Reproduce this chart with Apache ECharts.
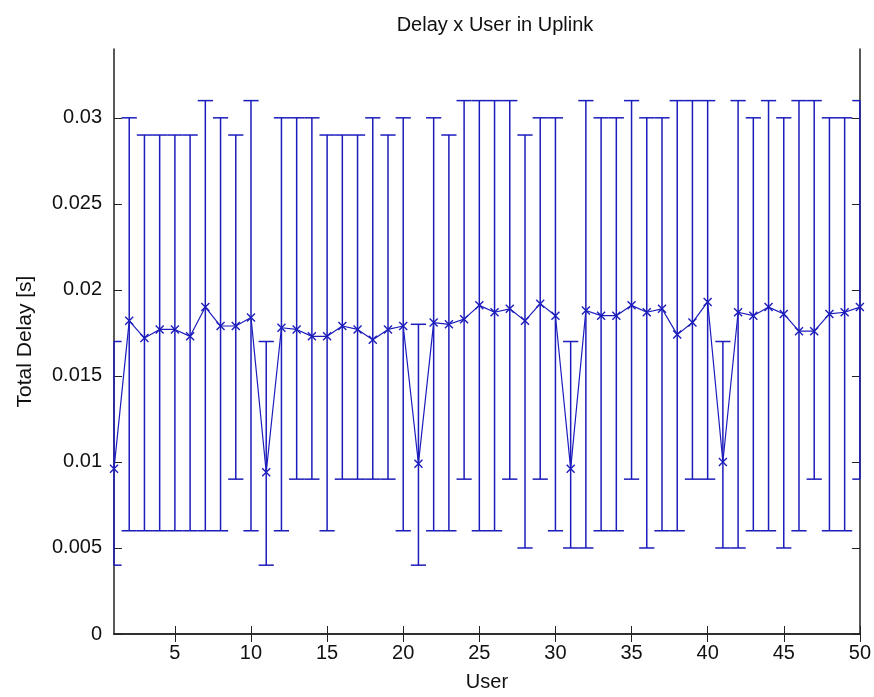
<!DOCTYPE html>
<html>
<head>
<meta charset="utf-8">
<script src="https://cdn.jsdelivr.net/npm/echarts@6/dist/echarts.min.js"></script>
<style>
  html, body { margin: 0; padding: 0; background: #fff; }
  #chart { width: 874px; height: 697px; }
</style>
</head>
<body>
<div id="chart"></div>
<script>
const users = [1, 2, 3, 4, 5, 6, 7, 8, 9, 10, 11, 12, 13, 14, 15, 16, 17, 18, 19, 20,
  21, 22, 23, 24, 25, 26, 27, 28, 29, 30, 31, 32, 33, 34, 35, 36, 37, 38, 39, 40,
  41, 42, 43, 44, 45, 46, 47, 48, 49, 50]

const meanDelay = [
  0.0096, 0.0182, 0.0172, 0.0177, 0.0177, 0.0173, 0.0190, 0.0179, 0.0179, 0.0184,
  0.0094, 0.0178, 0.0177, 0.0173, 0.0173, 0.0179, 0.0177, 0.0171, 0.0177, 0.0179,
  0.0099, 0.0181, 0.0180, 0.0183, 0.0191, 0.0187, 0.0189, 0.0182, 0.0192, 0.0185,
  0.0096, 0.0188, 0.0185, 0.0185, 0.0191, 0.0187, 0.0189, 0.0174, 0.0181, 0.0193,
  0.0100, 0.0187, 0.0185, 0.0190, 0.0186, 0.0176, 0.0176, 0.0186, 0.0187, 0.0190
]

const upperDelay = [
  0.017, 0.030, 0.029, 0.029, 0.029, 0.029, 0.031, 0.030, 0.029, 0.031,
  0.017, 0.030, 0.030, 0.030, 0.029, 0.029, 0.029, 0.030, 0.029, 0.030,
  0.018, 0.030, 0.029, 0.031, 0.031, 0.031, 0.031, 0.029, 0.030, 0.030,
  0.017, 0.031, 0.030, 0.030, 0.031, 0.030, 0.030, 0.031, 0.031, 0.031,
  0.017, 0.031, 0.030, 0.031, 0.030, 0.031, 0.031, 0.030, 0.030, 0.031
]

const lowerDelay = [
  0.004, 0.006, 0.006, 0.006, 0.006, 0.006, 0.006, 0.006, 0.009, 0.006,
  0.004, 0.006, 0.009, 0.009, 0.006, 0.009, 0.009, 0.009, 0.009, 0.006,
  0.004, 0.006, 0.006, 0.009, 0.006, 0.006, 0.009, 0.005, 0.009, 0.006,
  0.005, 0.005, 0.006, 0.006, 0.009, 0.005, 0.006, 0.006, 0.009, 0.009,
  0.005, 0.005, 0.006, 0.006, 0.005, 0.006, 0.009, 0.006, 0.006, 0.009
]

const xTicks = [5, 10, 15, 20, 25, 30, 35, 40, 45, 50]
const yTicks = [0, 0.005, 0.01, 0.015, 0.02, 0.025, 0.03]

const blue = '#1c1cbc'
const axisColor = '#222'
const font = 'Liberation Sans, Arial, sans-serif'

const chart = echarts.init(document.getElementById('chart'))

const meanData = users.map((u, i) => [u, meanDelay[i]])
const barData = users.map((u, i) => [u, lowerDelay[i], upperDelay[i]])

// vertical range line with caps, caps clipped to the plot box
function renderErrorBar(params, api) {
  const x = api.value(0)
  const lo = api.coord([x, api.value(1)])
  const hi = api.coord([x, api.value(2)])
  const half = api.size([1, 0])[0] * 0.5
  const cs = params.coordSys
  const left = Math.max(cs.x, lo[0] - half)
  const right = Math.min(cs.x + cs.width, lo[0] + half)
  const style = { stroke: blue, lineWidth: 1.5 }
  return {
    type: 'group',
    children: [
      { type: 'line', shape: { x1: lo[0], y1: lo[1], x2: hi[0], y2: hi[1] }, style },
      { type: 'line', shape: { x1: left, y1: hi[1], x2: right, y2: hi[1] }, style },
      { type: 'line', shape: { x1: left, y1: lo[1], x2: right, y2: lo[1] }, style }
    ]
  }
}

const option = {
  backgroundColor: '#fff',
  animation: false,
  textStyle: { fontFamily: font },
  title: {
    text: 'Delay x User in Uplink',
    left: 490,
    textAlign: 'center',
    top: 10,
    textStyle: { fontSize: 20, fontWeight: 'normal', color: '#111', fontFamily: font }
  },
  grid: { left: 114, right: 13, top: 49, bottom: 61 },
  xAxis: [
    {
      type: 'value',
      min: 1,
      max: 50,
      position: 'bottom',
      name: 'User',
      nameLocation: 'middle',
      nameGap: 38,
      nameTextStyle: { fontSize: 20, color: '#111' },
      axisLine: { lineStyle: { color: axisColor, width: 1.5 } },
      axisTick: { inside: true, length: 8, customValues: xTicks, lineStyle: { color: axisColor } },
      axisLabel: { customValues: xTicks, fontSize: 20, color: '#111', margin: 9 },
      splitLine: { show: false }
    },
    {
      type: 'value',
      min: 1,
      max: 50,
      position: 'top',
      axisLine: { lineStyle: { color: axisColor, width: 1.5 } },
      axisTick: { inside: true, length: 8, customValues: xTicks, lineStyle: { color: axisColor } },
      axisLabel: { show: false },
      splitLine: { show: false }
    }
  ],
  yAxis: [
    {
      type: 'value',
      min: 0,
      max: 0.034,
      position: 'left',
      name: 'Total Delay [s]',
      nameLocation: 'middle',
      nameGap: 78,
      nameTextStyle: { fontSize: 21, color: '#111' },
      axisLine: { show: true, lineStyle: { color: axisColor, width: 1.5 } },
      axisTick: { show: true, inside: true, length: 8, customValues: yTicks, lineStyle: { color: axisColor } },
      axisLabel: { customValues: yTicks, fontSize: 20, color: '#111', margin: 12, formatter: v => String(v) },
      splitLine: { show: false }
    },
    {
      type: 'value',
      min: 0,
      max: 0.034,
      position: 'right',
      axisLine: { show: true, lineStyle: { color: axisColor, width: 1.5 } },
      axisTick: { show: true, inside: true, length: 8, customValues: yTicks, lineStyle: { color: axisColor } },
      axisLabel: { show: false },
      splitLine: { show: false }
    }
  ],
  series: [
    {
      name: 'range',
      type: 'custom',
      renderItem: renderErrorBar,
      encode: { x: 0, y: [1, 2] },
      data: barData,
      z: 2
    },
    {
      name: 'mean',
      type: 'line',
      data: meanData,
      symbol: 'path://M0,0L10,10M10,0L0,10',
      symbolSize: 8,
      showSymbol: true,
      lineStyle: { color: blue, width: 1.2 },
      itemStyle: { color: blue, borderColor: blue, borderWidth: 1.4 },
      z: 3
    }
  ]
}

chart.setOption(option)
</script>
</body>
</html>
